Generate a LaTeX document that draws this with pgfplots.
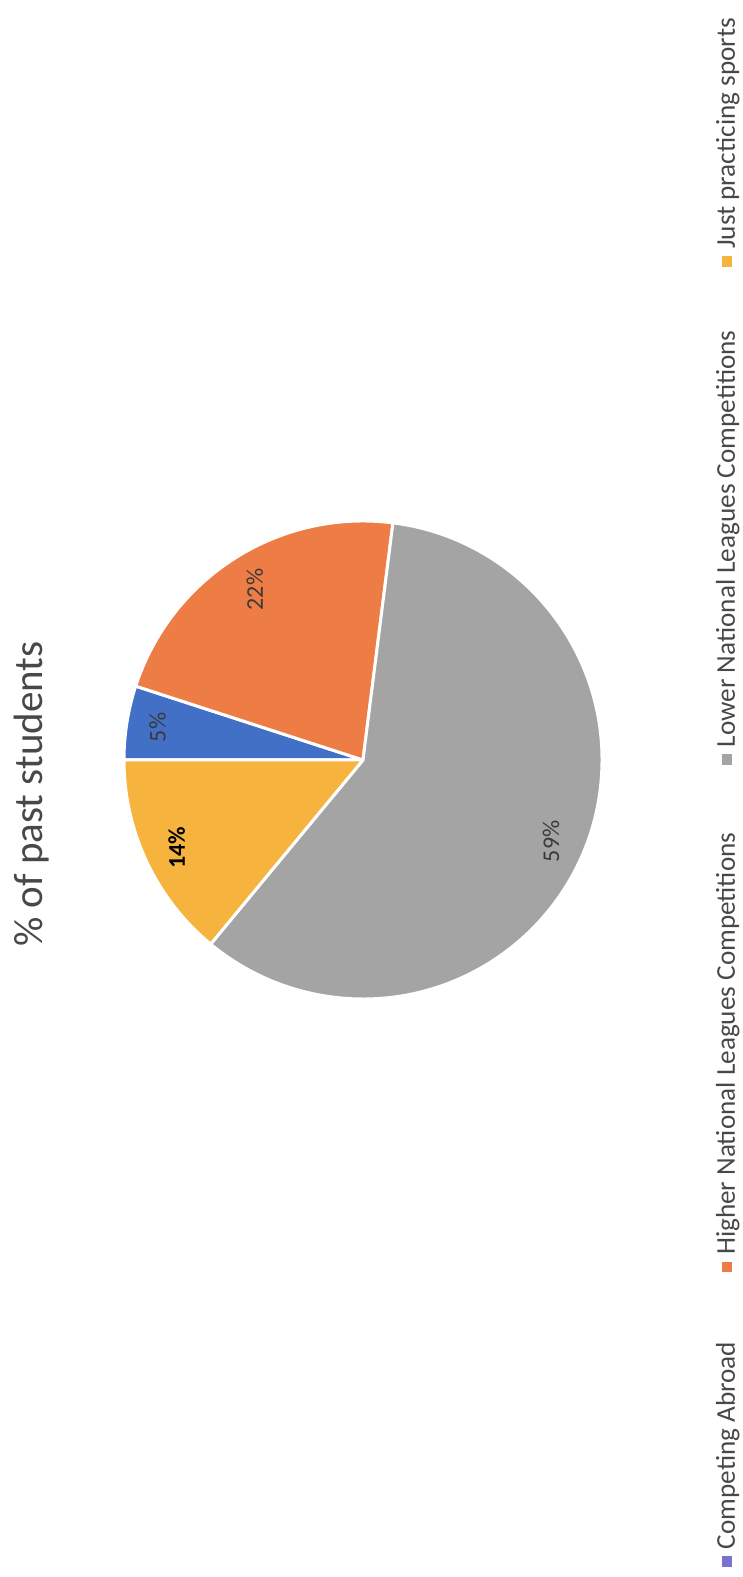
\documentclass[border=0pt]{standalone}
\usepackage{pgfplots}
\pgfplotsset{compat=1.18}
\usepackage{fontspec}
\setmainfont{Carlito}
\definecolor{cBlue}{HTML}{4170C6}
\definecolor{cOrange}{HTML}{EE7D45}
\definecolor{cGray}{HTML}{A4A4A4}
\definecolor{cYellow}{HTML}{F6B33E}
\definecolor{mBlue}{HTML}{7A72D0}
\definecolor{txt}{HTML}{484848}
\definecolor{lab}{HTML}{3A3A3A}
% shares (percent)
\def\vA{5}\def\vB{22}\def\vC{59}\def\vD{14}
\pgfmathsetmacro\aA{90}
\pgfmathsetmacro\aB{\aA-3.6*\vA}
\pgfmathsetmacro\aC{\aB-3.6*\vB}
\pgfmathsetmacro\aD{\aC-3.6*\vC}
\pgfmathsetmacro\aE{\aD-3.6*\vD}
\begin{document}
\begin{tikzpicture}[rotate=90, transform shape]
\begin{axis}[scale only axis, width=788.5pt, height=371.5pt,
  xmin=0, xmax=1577, ymin=0, ymax=743, hide axis, clip=false,
  legend columns=4,
  legend style={draw=none, fill=none, inner sep=0pt, outer sep=0pt,
    at={(axis cs:10.5,16)}, anchor=west,
    font=\fontsize{13.6}{16}\selectfont, text=txt,
    nodes={inner sep=0pt},
    /tikz/every odd column/.append style={column sep=3.5pt},
    /tikz/column 2/.append style={column sep=34.75pt},
    /tikz/column 4/.append style={column sep=34pt},
    /tikz/column 6/.append style={column sep=32pt}}]
\path (axis cs:0,0) rectangle (axis cs:1577,743);
\fill[cBlue, draw=white, line width=1.5pt, line join=round] (axis cs:817,380) -- ++(\aA:119.5pt) arc[start angle=\aA, end angle=\aB, radius=119.5pt] -- cycle;
\fill[cOrange, draw=white, line width=1.5pt, line join=round] (axis cs:817,380) -- ++(\aB:119.5pt) arc[start angle=\aB, end angle=\aC, radius=119.5pt] -- cycle;
\fill[cGray, draw=white, line width=1.5pt, line join=round] (axis cs:817,380) -- ++(\aC:119.5pt) arc[start angle=\aC, end angle=\aD, radius=119.5pt] -- cycle;
\fill[cYellow, draw=white, line width=1.5pt, line join=round] (axis cs:817,380) -- ++(\aD:119.5pt) arc[start angle=\aD, end angle=\aE, radius=119.5pt] -- cycle;
\addlegendimage{legend image code/.code={\fill[mBlue] (0pt,-2.4pt) rectangle (4.8pt,2.4pt);}}
\addlegendentry{Competing Abroad}
\addlegendimage{legend image code/.code={\fill[cOrange] (0pt,-2.4pt) rectangle (4.8pt,2.4pt);}}
\addlegendentry{Higher National Leagues Competitions}
\addlegendimage{legend image code/.code={\fill[cGray] (0pt,-2.4pt) rectangle (4.8pt,2.4pt);}}
\addlegendentry{Lower National Leagues Competitions}
\addlegendimage{legend image code/.code={\fill[cYellow] (0pt,-2.4pt) rectangle (4.8pt,2.4pt);}}
\addlegendentry{Just practicing sports}
\node[font=\fontsize{12}{14}\selectfont, text=lab] at (axis cs:{817+208*cos((\aA+\aB)/2)},{380+208*sin((\aA+\aB)/2)}) {5\%};
\node[font=\fontsize{12}{14}\selectfont, text=lab] at (axis cs:{817+202*cos((\aB+\aC)/2)},{380+202*sin((\aB+\aC)/2)}) {22\%};
\node[font=\fontsize{12}{14}\selectfont, text=lab] at (axis cs:{817+205*cos((\aC+\aD)/2)},{380+205*sin((\aC+\aD)/2)}) {59\%};
\node[font=\bfseries\fontsize{12}{14}\selectfont, text=black] at (axis cs:{817+206*cos((\aD+\aE)/2)},{380+206*sin((\aD+\aE)/2)}) {14\%};
\node[font=\fontsize{20.5}{24}\selectfont, text=txt, anchor=base, inner sep=0pt] at (axis cs:783,700) {\% of past students};
\end{axis}
\end{tikzpicture}
\end{document}
